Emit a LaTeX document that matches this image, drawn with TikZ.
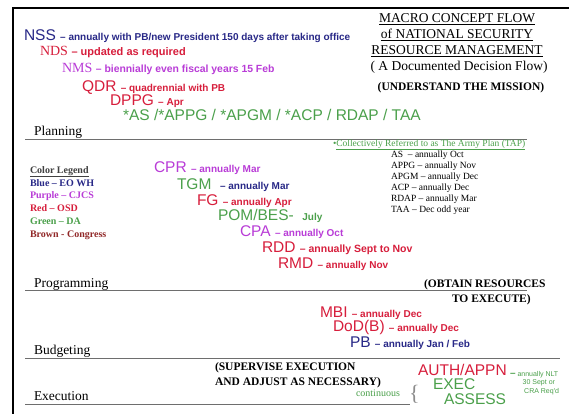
\documentclass[tikz,border=0pt]{standalone}
\usepackage{fontspec}
\setmainfont{Liberation Serif}
\newfontfamily\sansf{Liberation Sans}

% colour code of the legend
\definecolor{eoBlue}{RGB}{40,40,135}
\definecolor{cjcsPurple}{RGB}{185,60,215}
\definecolor{osdRed}{RGB}{215,30,60}
\definecolor{daGreen}{RGB}{75,160,75}
\definecolor{congBrown}{RGB}{145,40,40}
\definecolor{ruleGrey}{RGB}{110,110,110}

% type faces
\newcommand\acrsans{\sansf\fontsize{15.5}{17}\selectfont}
\newcommand\acrserif{\fontsize{14}{16}\selectfont}
\newcommand\descsans{\sansf\bfseries\fontsize{10}{12}\selectfont}
\newcommand\descserif{\bfseries\fontsize{10}{12}\selectfont}
\newcommand\phasefont{\fontsize{13.5}{15}\selectfont}
\newcommand\titlefont{\fontsize{13.5}{15}\selectfont}
\newcommand\capsbold{\bfseries\fontsize{11.5}{13}\selectfont}
\newcommand\legendfont{\bfseries\fontsize{10}{12}\selectfont}
\newcommand\tapfont{\fontsize{9.5}{11}\selectfont}
\newcommand\tinysans{\sansf\fontsize{7}{8}\selectfont}

\begin{document}
\begin{tikzpicture}[x=1pt,y=-1pt,
  txt/.style={anchor=base west, inner sep=0pt, outer sep=0pt},
  ctxt/.style={anchor=base, inner sep=0pt, outer sep=0pt},
  rtxt/.style={anchor=base east, inner sep=0pt, outer sep=0pt},
  phaserule/.style={draw=ruleGrey, line width=0.9pt},
  frameline/.style={draw=black, line width=2pt}]

\useasboundingbox (0,0) rectangle (569,417);
\fill[white] (0,0) rectangle (569,417);

% frame: top and left edges
\coordinate (frTL) at (13,8);
\coordinate (frTR) at (569,8);
\coordinate (frBL) at (13,414);
\draw[frameline] (frTR) -- (frTL) -- (frBL);

% title block
\node[ctxt] (t1) at (457,23) {\titlefont\underline{MACRO CONCEPT FLOW}};
\node[ctxt] (t2) at (457,39) {\titlefont\underline{of NATIONAL SECURITY}};
\node[ctxt] (t3) at (457,55) {\titlefont\underline{RESOURCE MANAGEMENT}};
\node[ctxt] (t4) at (459,71) {\titlefont( A Documented Decision Flow)};
\node[ctxt] (t5) at (461,91) {\capsbold (UNDERSTAND THE MISSION)};

% planning documents
\node[txt, text=eoBlue] (nss) at (24,41)
  {\acrsans NSS \descserif{– annually with PB/new President 150 days after taking office}};
\node[txt, text=osdRed] (nds) at (40,56)
  {\acrserif NDS {\sansf\bfseries\fontsize{11}{13}\selectfont – updated as required}};
\node[txt, text=cjcsPurple] (nms) at (62,73)
  {\acrserif NMS {\sansf\bfseries\fontsize{10.4}{12}\selectfont – biennially even fiscal years 15 Feb}};
\node[txt, text=osdRed] (qdr) at (82,92)
  {\acrsans QDR \descsans{– quadrennial with PB}};
\node[txt, text=osdRed] (dppg) at (110,106)
  {\acrsans DPPG \descsans{– Apr}};
\node[txt, text=daGreen] (tap) at (123,120)
  {\acrsans *AS /*APPG / *APGM / *ACP / RDAP / TAA};

% phase labels and rules
\node[txt] (planning) at (34,135) {\phasefont Planning};
\coordinate (plA) at (25,139);
\coordinate (plB) at (527,139);
\draw[phaserule] (plA) -- (plB);

\node[txt] (programming) at (34,287) {\phasefont Programming};
\coordinate (prA) at (25,290);
\coordinate (prB) at (527,290);
\draw[phaserule] (prA) -- (prB);

\node[txt] (budgeting) at (34,354) {\phasefont Budgeting};
\coordinate (buA) at (25,358);
\coordinate (buB) at (560,358);
\draw[phaserule] (buA) -- (buB);

\node[txt] (execution) at (34,400) {\phasefont Execution};
\coordinate (exA) at (25,404);
\coordinate (exB) at (410,404);
\draw[phaserule] (exA) -- (exB);

% The Army Plan components
\node[txt, text=daGreen] (tapnote) at (333,146)
  {\tapfont •\underline{Collectively Referred to as The Army Plan (TAP)}};
\node[txt] (as)   at (391,157) {\tapfont AS \ – annually Oct};
\node[txt] (appg) at (391,168) {\tapfont APPG – annually Nov};
\node[txt] (apgm) at (391,179) {\tapfont APGM – annually Dec};
\node[txt] (acp)  at (391,190) {\tapfont ACP – annually Dec};
\node[txt] (rdap) at (391,201) {\tapfont RDAP – annually Mar};
\node[txt] (taa)  at (391,212) {\tapfont TAA – Dec odd year};

% colour legend
\node[txt, text=black!75] (legend) at (30,173) {\legendfont\underline{Color Legend}};
\node[txt, text=eoBlue] (lgBlue) at (30,186) {\legendfont Blue – EO WH};
\node[txt, text=cjcsPurple] (lgPurple) at (30,198) {\legendfont Purple – CJCS};
\node[txt, text=osdRed] (lgRed) at (30,211) {\legendfont Red – OSD};
\node[txt, text=daGreen] (lgGreen) at (30,224) {\legendfont Green – DA};
\node[txt, text=congBrown] (lgBrown) at (30,237) {\legendfont Brown - Congress};

% programming documents
\node[txt, text=cjcsPurple] (cpr) at (154,172)
  {\acrsans CPR \descsans{– annually Mar}};
\node[txt, text=daGreen] (tgm) at (177,189)
  {\acrsans TGM \ \descsans{\color{eoBlue}– annually Mar}};
\node[txt, text=osdRed] (fg) at (197,205)
  {\acrsans FG \descsans{– annually Apr}};
\node[txt, text=daGreen] (pom) at (218,220)
  {\acrsans POM/BES- \ \descsans{July}};
\node[txt, text=cjcsPurple] (cpa) at (240,236)
  {\acrsans CPA \descsans{– annually Oct}};
\node[txt, text=osdRed] (rdd) at (262,252)
  {\acrsans RDD {\sansf\bfseries\fontsize{10.5}{12}\selectfont – annually Sept to Nov}};
\node[txt, text=osdRed] (rmd) at (278,268)
  {\acrsans RMD \descsans{– annually Nov}};

\node[txt] (obtain1) at (424,287) {\capsbold (OBTAIN RESOURCES};
\node[txt] (obtain2) at (452,302) {\capsbold TO EXECUTE)};

% budgeting documents
\node[txt, text=osdRed] (mbi) at (320,317)
  {\acrsans MBI \descsans{– annually Dec}};
\node[txt, text=osdRed] (dodb) at (333,331)
  {\acrsans DoD(B) \descsans{– annually Dec}};
\node[txt, text=eoBlue] (pb) at (350,347)
  {\acrsans PB \descsans{– annually Jan / Feb}};

% execution
\node[txt] (sup1) at (215,370) {\capsbold (SUPERVISE EXECUTION};
\node[txt] (sup2) at (215,385) {\capsbold AND ADJUST AS NECESSARY)};
\node[txt, text=daGreen] (cont) at (356,396) {\fontsize{10}{12}\selectfont continuous};
\node[txt, text=black!45] (brace) at (409,400) {\fontsize{22}{24}\selectfont\{};

\node[txt, text=osdRed] (auth) at (418,375) {\acrsans AUTH/APPN};
\node[txt, text=daGreen] (exec) at (433,389.5) {\acrsans EXEC};
\node[txt, text=daGreen] (assess) at (444,404) {\acrsans ASSESS};

\node[txt, text=daGreen] (nlt1) at (510,376) {\tinysans{\sansf\bfseries\fontsize{10}{12}\selectfont –} annually NLT};
\node[rtxt, text=daGreen] (nlt2) at (555,384) {\tinysans 30 Sept or};
\node[rtxt, text=daGreen] (nlt3) at (559,393) {\tinysans CRA Req'd};

\end{tikzpicture}
\end{document}
